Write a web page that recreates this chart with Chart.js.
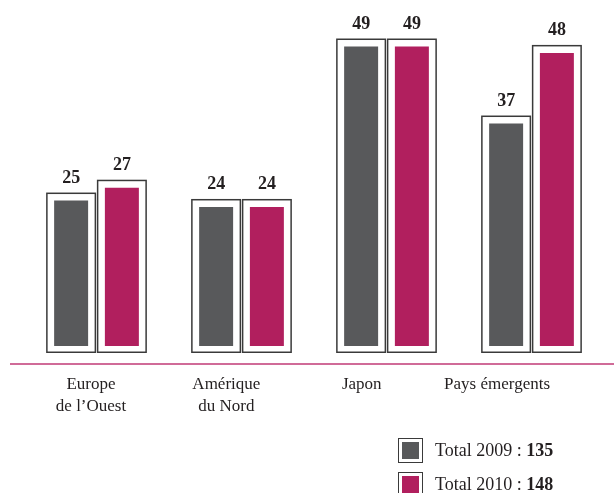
<!DOCTYPE html>
<html>
<head>
<meta charset="utf-8">
<script src="https://cdn.jsdelivr.net/npm/chart.js@4/dist/chart.umd.min.js"></script>
<style>
  html, body { margin: 0; padding: 0; background: #fff; }
  #wrap { position: relative; width: 614px; height: 493px; }
  #c { position: absolute; left: 0; top: 0; }
  .leg { position: absolute; left: 398px; height: 25px; display: flex; align-items: center;
         font-family: "Liberation Serif", serif; font-size: 18px; color: #231f20; white-space: nowrap; }
  .sw { box-sizing: border-box; width: 25px; height: 25px; border: 1.5px solid #3a3a3a;
        padding: 3px; background: #fff; margin-right: 12px; }
  .sw span { display: block; width: 100%; height: 100%; }
</style>
</head>
<body>
<div id="wrap">
  <canvas id="c" width="614" height="493"></canvas>
  <div id="legend"></div>
</div>
<script>
const categories = [["Europe", "de l’Ouest"], ["Amérique", "du Nord"], "Japon", "Pays émergents"];
const values2009 = [25, 24, 49, 37];
const values2010 = [27, 24, 49, 48];
const seriesNames = ["Total 2009", "Total 2010"];
const totals = [135, 148];
const colors = ["#58595b", "#b11f5e"];

const frameInset = {top: 8, left: 8, right: 8, bottom: 7};

const framePlugin = {
  id: 'frames',
  afterDatasetsDraw(chart) {
    const ctx = chart.ctx;
    ctx.save();
    ctx.strokeStyle = '#3a3a3a';
    ctx.lineWidth = 1.5;
    chart.data.datasets.forEach((ds, di) => {
      const meta = chart.getDatasetMeta(di);
      meta.data.forEach((el, i) => {
        const p = el.getProps(['x', 'y', 'base', 'width'], true);
        const l = p.x - p.width / 2, t = p.y;
        ctx.strokeRect(l + 0.75, t + 0.75, p.width - 1.5, p.base - p.y - 1.5);
        ctx.fillStyle = '#231f20';
        ctx.font = 'bold 18px "Liberation Serif", serif';
        ctx.textAlign = 'center';
        ctx.textBaseline = 'alphabetic';
        ctx.fillText(String(ds.data[i]), p.x, p.y - 10);
      });
    });
    const a = chart.chartArea;
    ctx.strokeStyle = '#d06b98';
    ctx.lineWidth = 2;
    ctx.beginPath();
    ctx.moveTo(10, a.bottom + 11);
    ctx.lineTo(614, a.bottom + 11);
    ctx.stroke();
    ctx.restore();
  }
};

const labelKeys = categories.map((_, i) => i);

new Chart(document.getElementById('c'), {
  type: 'bar',
  data: {
    labels: categories,
    datasets: [
      { label: seriesNames[0], data: values2009, backgroundColor: colors[0],
        borderColor: '#ffffff', borderWidth: frameInset, borderSkipped: false, xAxisID: 'x' },
      { label: seriesNames[1], data: values2010, backgroundColor: colors[1],
        borderColor: '#ffffff', borderWidth: frameInset, borderSkipped: false, xAxisID: 'x' }
    ]
  },
  options: {
    responsive: false,
    animation: false,
    layout: { padding: { left: 24, right: 10, top: 0, bottom: 0 } },
    plugins: { legend: { display: false }, tooltip: { enabled: false } },
    datasets: { bar: { categoryPercentage: 0.7, barPercentage: 0.985 } },
    scales: {
      y: { display: false, min: 0, max: 55 },
      x: { display: false },
      x2: {
        type: 'linear', position: 'bottom', min: -0.495, max: 3.79, offset: false,
        grid: { display: false, drawTicks: false }, border: { display: false },
        afterBuildTicks: (s) => { s.ticks = labelKeys.map(v => ({ value: v })); },
        afterFit: (s) => { s.height = 140; },
        ticks: {
          padding: 20, maxRotation: 0, autoSkip: false,
          color: '#231f20',
          font: { family: '"Liberation Serif", serif', size: 17, lineHeight: 1.3 },
          callback: (v) => categories[v]
        }
      }
    }
  },
  plugins: [framePlugin]
});

const legend = document.getElementById('legend');
const legTops = [438, 472];
seriesNames.forEach((name, i) => {
  const d = document.createElement('div');
  d.className = 'leg';
  d.style.top = legTops[i] + 'px';
  d.innerHTML = '<div class="sw"><span style="background:' + colors[i] + '"></span></div>' +
    name + '&nbsp;:&nbsp;<b>' + totals[i] + '</b>';
  legend.appendChild(d);
});
</script>
</body>
</html>
